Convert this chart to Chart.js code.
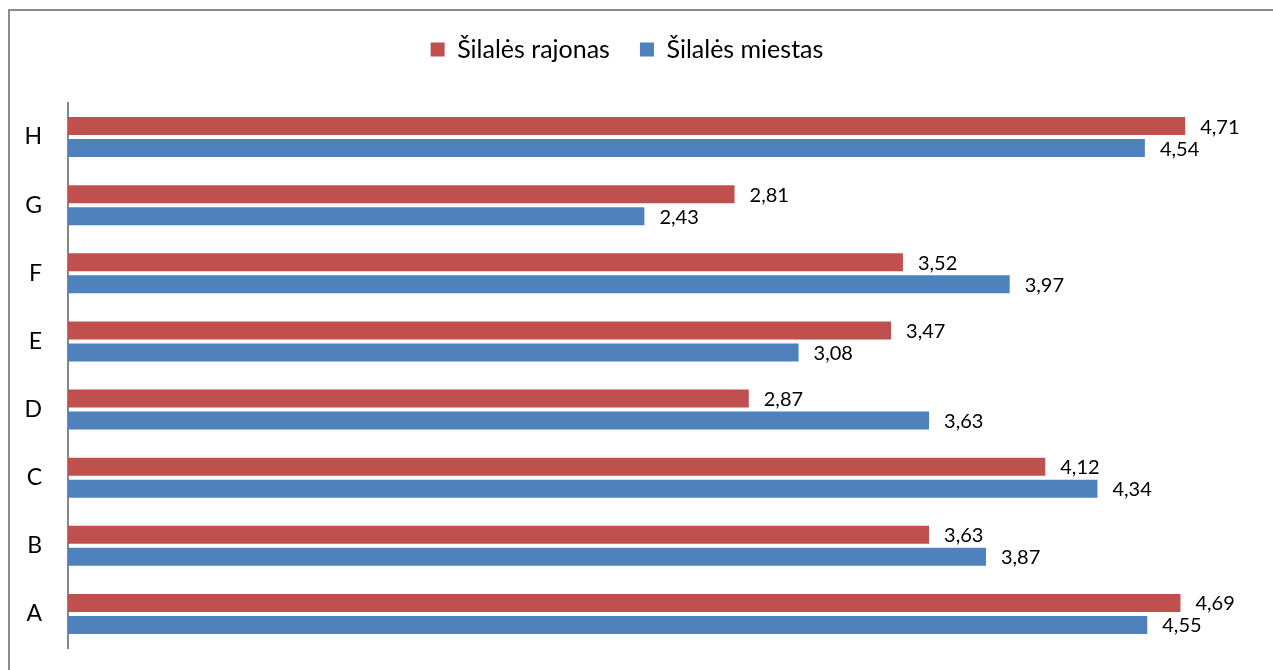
<!DOCTYPE html>
<html>
<head>
<meta charset="utf-8">
<script src="https://cdn.jsdelivr.net/npm/chart.js@4.4.0/dist/chart.umd.min.js"></script>
<style>
    html, body { margin: 0; padding: 0; background: #fff; }
    #wrap { width: 1273px; height: 670px; position: relative; }
</style>
</head>
<body>
<div id="wrap"><canvas id="barChart"></canvas></div>
<script>
// Chart data
const categories = ['H', 'G', 'F', 'E', 'D', 'C', 'B', 'A'];
const rajonasValues = [4.71, 2.81, 3.52, 3.47, 2.87, 4.12, 3.63, 4.69];
const miestasValues = [4.54, 2.43, 3.97, 3.08, 3.63, 4.34, 3.87, 4.55];
const seriesNames = ['Šilalės rajonas', 'Šilalės miestas'];

const FONT = 'Lato, "Open Sans", sans-serif';

// Outer frame like the office chart border
const frameBorder = {
    id: 'frameBorder',
    beforeDraw(chart) {
        const ctx = chart.ctx;
        ctx.save();
        ctx.fillStyle = '#fff';
        ctx.fillRect(0, 0, chart.width, chart.height);
        ctx.strokeStyle = '#8c8c8c';
        ctx.lineWidth = 2;
        ctx.strokeRect(9, 10, chart.width + 20, chart.height + 20);
        ctx.restore();
    }
};

// Value labels at the end of each bar, with comma decimals
const valueLabels = {
    id: 'valueLabels',
    afterDatasetsDraw(chart) {
        const ctx = chart.ctx;
        ctx.save();
        ctx.font = '20px ' + FONT;
        ctx.fillStyle = '#000';
        ctx.textAlign = 'left';
        ctx.textBaseline = 'middle';
        chart.data.datasets.forEach((ds, i) => {
            const meta = chart.getDatasetMeta(i);
            meta.data.forEach((bar, j) => {
                const txt = ds.data[j].toFixed(2).replace('.', ',');
                ctx.fillText(txt, bar.x + 15, bar.y + 1);
            });
        });
        ctx.restore();
    }
};

document.addEventListener('DOMContentLoaded', function() {
    const ctx = document.getElementById('barChart').getContext('2d');
    new Chart(ctx, {
        type: 'bar',
        data: {
            labels: categories,
            datasets: [{
                label: seriesNames[0],
                data: rajonasValues,
                backgroundColor: '#C0504D',
                borderWidth: 0,
                categoryPercentage: 0.646,
                barPercentage: 0.82
            }, {
                label: seriesNames[1],
                data: miestasValues,
                backgroundColor: '#4F81BD',
                borderWidth: 0,
                categoryPercentage: 0.646,
                barPercentage: 0.82
            }]
        },
        options: {
            indexAxis: 'y',
            responsive: true,
            maintainAspectRatio: false,
            animation: false,
            layout: {
                padding: { top: 7, right: 19, bottom: 22, left: 0 }
            },
            plugins: {
                legend: {
                    display: true,
                    position: 'top',
                    labels: {
                        boxWidth: 14,
                        boxHeight: 14,
                        color: '#000',
                        padding: 30,
                        font: { family: FONT, size: 25 }
                    }
                },
                tooltip: { enabled: false }
            },
            scales: {
                // value axis is hidden; it sits on top only to keep space under the legend
                x: {
                    position: 'top',
                    min: 0,
                    max: 5,
                    grid: { display: false, drawTicks: false },
                    border: { display: false },
                    ticks: { display: false },
                    afterFit: function(scale) {
                        scale.height = 31;
                    }
                },
                y: {
                    grid: { display: false, drawTicks: false },
                    border: { display: true, color: '#868686', width: 2 },
                    ticks: {
                        color: '#000',
                        padding: 26,
                        font: { family: FONT, size: 23 }
                    },
                    afterFit: function(scale) {
                        // fixed axis width, no extra top/bottom room from label padding
                        scale.width = 68;
                        scale.paddingTop = 0;
                        scale.paddingBottom = 0;
                    }
                }
            }
        },
        plugins: [frameBorder, valueLabels]
    });
});
</script>
</body>
</html>
